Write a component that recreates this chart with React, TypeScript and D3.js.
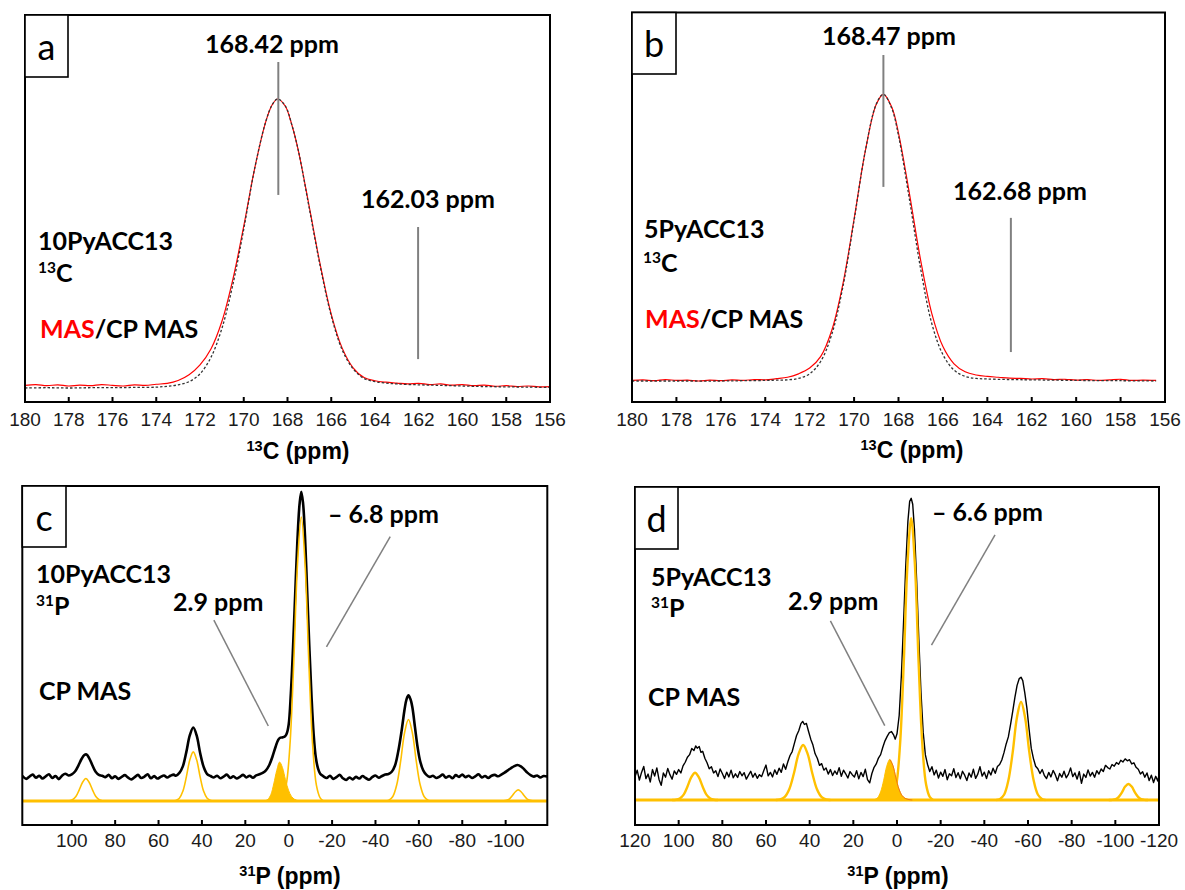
import React from "react";
import * as d3 from "d3";

type Pt = [number, number];

// ---------------- tick labels ----------------
const ticks13C = [180, 178, 176, 174, 172, 170, 168, 166, 164, 162, 160, 158, 156];
const ticks31Pc = [100, 80, 60, 40, 20, 0, -20, -40, -60, -80, -100];
const ticks31Pd = [120, 100, 80, 60, 40, 20, 0, -20, -40, -60, -80, -100, -120];

// ---------------- panel a : 10PyACC13 13C (ppm, normalised intensity) ----------------
const masA: Pt[] = [
  [180, 0.9], [179.5, 1.2], [179, 0.8], [178.5, 1.1], [178, 0.7], [177.5, 1.0], [177, 0.8], [176.5, 1.2],
  [176, 0.9], [175.5, 0.7], [175, 1.1], [174.5, 0.9], [174, 1.3], [173.5, 1.6], [173, 2.6], [172.5, 4.6],
  [172, 8], [171.5, 13.5], [171, 23], [170.5, 37.5], [170, 56], [169.5, 76], [169, 92], [168.7, 98],
  [168.45, 100], [168.1, 97.5], [167.8, 91], [167.5, 82], [167, 62.5], [166.5, 42.5], [166, 25.5],
  [165.5, 13.8], [165, 7], [164.5, 3.6], [164, 2.5], [163.5, 2.0], [163, 1.7], [162.5, 1.4], [162, 1.6],
  [161.5, 1.2], [161, 1.4], [160.5, 1.0], [160, 1.2], [159.5, 0.8], [159, 1.0], [158.5, 0.6], [158, 0.8],
  [157.5, 0.5], [157, 0.7], [156.5, 0.4], [156, 0.5],
];
const cpA: Pt[] = [
  [180, 0], [179, 0.1], [178, 0], [177, 0.1], [176, 0.1], [175, 0.2], [174, 0.3], [173.5, 0.6], [173, 1.1],
  [172.5, 2.2], [172, 4.9], [171.5, 10.6], [171, 20.6], [170.5, 35.7], [170, 55], [169.5, 76], [169, 92],
  [168.7, 98], [168.45, 100], [168.1, 97.6], [167.8, 91], [167.5, 82], [167, 62], [166.5, 42], [166, 25],
  [165.5, 13.2], [165, 6.6], [164.5, 3.3], [164, 2.2], [163.5, 1.7], [163, 1.4], [162, 1.1], [161, 0.9],
  [160, 0.7], [159, 0.5], [158, 0.4], [157, 0.3], [156, 0.2],
];

// ---------------- panel b : 5PyACC13 13C ----------------
const masB: Pt[] = [
  [180, 0.2], [179.5, 0.4], [179, 0.1], [178.5, 0.5], [178, 0.2], [177.5, 0.3], [177, 0], [176.5, 0.3],
  [176, 0.1], [175.5, 0.4], [175, 0.2], [174.5, 0.5], [174, 0.4], [173.5, 0.8], [173, 1.3], [172.5, 2.5],
  [172, 4.5], [171.5, 8.6], [171, 17.8], [170.5, 34], [170, 56.5], [169.5, 80], [169, 96.5], [168.68, 100],
  [168.3, 95.5], [168, 86.5], [167.5, 65], [167, 42], [166.5, 23.5], [166, 12], [165.5, 6], [165, 3.2],
  [164.5, 2.1], [164, 1.6], [163.5, 1.3], [163, 1.0], [162.5, 0.9], [162, 0.7], [161.5, 0.8], [161, 0.5],
  [160.5, 0.6], [160, 0.3], [159.5, 0.5], [159, 0.2], [158.5, 0.4], [158, 0.6], [157.5, 0.2], [157, 0.3],
  [156.4, 0.2],
];
const cpB: Pt[] = [
  [180, 0], [178, 0], [176, 0], [175, 0.1], [174, 0.2], [173.5, 0.3], [173, 0.4], [172.5, 0.9], [172, 2.5],
  [171.5, 6.9], [171, 16.4], [170.5, 33], [170, 56], [169.5, 80], [169, 96.6], [168.68, 100], [168.3, 95],
  [168, 85.6], [167.5, 63], [167, 39], [166.5, 20], [166, 9.2], [165.5, 3.8], [165, 1.6], [164.5, 0.9],
  [164, 0.7], [163, 0.5], [162, 0.4], [160, 0.2], [158, 0.1], [156.4, 0],
];

// ---------------- panel c : 10PyACC13 31P CP MAS ----------------
const cpC: Pt[] = [
  [122.8, 8.9], [121, 7.8], [119.5, 8.6], [118, 9.3], [116.5, 8.2], [115, 8.9], [113.5, 7.9], [112, 8.7],
  [110.5, 9.4], [109, 8.1], [107.5, 8.8], [106, 7.7], [104.5, 8.9], [103, 9.6], [101.5, 9.0],
  [100, 9.4], [98.5, 10.4], [97, 12.4], [95.5, 14.8], [94.2, 16.2], [93.2, 16.4], [92, 15.1], [90.5, 12.6],
  [89, 10.3], [87.5, 9.2], [86, 8.9],
  [84.5, 8.4], [83, 9.2], [81.5, 8.0], [80, 8.7], [78.5, 7.8], [77, 8.5], [75.5, 9.1], [74, 8.2], [72.5, 7.6],
  [71, 8.4], [69.5, 9.2], [68, 8.1], [66.5, 8.6], [65, 9.4], [63.5, 8.0], [62, 8.8], [60.5, 7.9], [59, 8.5],
  [57.5, 9.0], [56, 8.3], [54.5, 8.9], [53, 9.3],
  [52, 8.9], [50.4, 9.9], [48.8, 12.2], [47.2, 17.2], [45.6, 23.1], [44, 25.9], [42.4, 23], [40.8, 16.8],
  [39.2, 12], [37.6, 9.5], [36, 8.8],
  [34.5, 8.3], [33, 8.9], [31.5, 8.0], [30, 8.6], [28.5, 9.3], [27, 8.1], [25.5, 8.7], [24, 7.9], [22.5, 8.5],
  [21, 9.2], [19.5, 8.3], [18, 8.9], [16.5, 8.2], [15, 9.0], [13.5, 9.4], [12, 9.9],
  [10.5, 10.8], [9, 12.6], [7.5, 15.6], [6, 19.2], [4.8, 21.6], [3.8, 22.3], [2.8, 22.4], [1.8, 22.7],
  [0.9, 23.8], [0, 27], [-1, 38], [-2, 54], [-3, 73], [-4, 91.5], [-5, 104.5], [-5.8, 108.9], [-6.6, 105],
  [-7.5, 93.5], [-8.5, 74], [-9.5, 54.5], [-10.5, 37], [-11.5, 23.5], [-12.5, 15.3], [-13.5, 11.5],
  [-14.5, 9.6], [-16, 8.7],
  [-17.5, 8.1], [-19, 8.9], [-20.5, 7.8], [-22, 8.4], [-23.5, 9.2], [-25, 8.0], [-26.5, 7.4], [-28, 8.3],
  [-29.5, 7.6], [-31, 8.5], [-32.5, 7.9], [-34, 8.8], [-35.5, 8.1], [-37, 7.5], [-38.5, 8.4], [-40, 9.0],
  [-41.5, 8.2], [-43, 8.8], [-44.5, 9.3],
  [-46, 9.5], [-47.5, 10.3], [-49, 12.5], [-50.5, 17.5], [-52, 24.5], [-53.4, 32.2], [-54.3, 35.8],
  [-55.2, 37.2], [-56.1, 35.9], [-57, 33], [-58.2, 26], [-59.4, 19], [-60.6, 14], [-62, 10.8], [-63.5, 9.2],
  [-65, 8.5],
  [-66.5, 8.9], [-68, 8.1], [-69.5, 8.6], [-71, 9.3], [-72.5, 8.2], [-74, 8.8], [-75.5, 8.0], [-77, 9.1],
  [-78.5, 8.5], [-80, 9.3], [-81.5, 8.4], [-83, 8.9], [-84.5, 8.1], [-86, 8.7], [-87.5, 9.4], [-89, 8.3],
  [-90.5, 8.8], [-92, 8.1], [-93.5, 8.9], [-95, 9.2], [-96.5, 8.7], [-98, 9.3],
  [-99.5, 10.0], [-101, 10.8], [-102.5, 11.6], [-104, 12.3], [-105.5, 12.7], [-107, 12.2], [-108.5, 11.2],
  [-110, 10.0], [-111.5, 9.1], [-113, 8.6], [-114.5, 9.0], [-116, 8.3], [-117.5, 8.8], [-119.2, 8.6],
];
const fitC93: Pt[] = [[102.5, 0], [101.2, 0.09], [99.7, 0.44], [98.1, 1.56], [96.6, 3.85], [95, 6.6], [93.5, 7.9], [92, 6.6], [90.4, 3.85], [88.9, 1.56], [87.3, 0.44], [85.8, 0.09], [84.5, 0]];
const fitC44: Pt[] = [[53.5, 0], [52, 0.19], [50.4, 0.97], [48.8, 3.4], [47.2, 8.4], [45.6, 14.4], [44, 17.3], [42.4, 14.4], [40.8, 8.4], [39.2, 3.4], [37.6, 0.97], [36, 0.19], [34.5, 0]];
const fitC3: Pt[] = [[12, 0], [11, 0.1], [9.6, 0.6], [8.2, 2.3], [6.9, 6], [5.5, 10.8], [4.2, 13.7], [2.9, 11.8], [1.5, 7.5], [0.1, 3.8], [-1.3, 1.6], [-2.7, 0.6], [-4.5, 0.1], [-6, 0]];
const fitCmain: Pt[] = [[4.5, 0], [2.9, 1.1], [1.16, 5.6], [-0.58, 19.8], [-2.32, 48.7], [-4.06, 83.5], [-5.8, 100], [-7.54, 83.5], [-9.28, 48.7], [-11.02, 19.8], [-12.76, 5.6], [-14.5, 1.1], [-16, 0]];
const fitC55: Pt[] = [[-44.5, 0], [-46.2, 0.32], [-48, 1.6], [-49.8, 5.7], [-51.6, 14], [-53.4, 24], [-55.2, 28.7], [-57, 24], [-58.8, 14], [-60.6, 5.7], [-62.4, 1.6], [-64.2, 0.32], [-66, 0]];
const fitC105: Pt[] = [[-97.5, 0], [-99.1, 0.04], [-100.4, 0.22], [-101.8, 0.77], [-103.1, 1.9], [-104.5, 3.26], [-105.8, 3.9], [-107.1, 3.26], [-108.5, 1.9], [-109.8, 0.77], [-111.2, 0.22], [-112.5, 0.04], [-114, 0]];

// ---------------- panel d : 5PyACC13 31P CP MAS ----------------
const cpD: Pt[] = [
  [120, 8.2], [119, 10.6], [118, 7.1], [117, 9.8], [116, 11.9], [115, 7.6], [114, 9.2], [113, 6.4], [112, 10.8],
  [111, 8.5], [110, 11.4], [109, 7.3], [108, 5.2], [107, 9.6], [106, 8.1], [105, 11.2], [104, 9.0], [103, 7.4],
  [102, 10.3], [101, 9.1],
  [100, 10.8], [99, 9.6], [98, 12.1], [97, 13.4], [96, 15.2], [95, 16.1], [94, 18.3], [93, 17.6], [92.2, 19.2],
  [91.5, 18.4], [90.6, 19.0], [89.8, 16.9], [89, 17.3], [88, 14.8], [87, 13.2], [86, 11.1], [85, 11.8], [84, 9.6],
  [83, 10.4], [82, 8.3], [81, 11.0], [80, 9.4], [79, 7.6], [78, 9.9], [77, 8.2], [76, 10.6], [75, 7.9], [74, 9.3],
  [73, 8.0], [72, 10.1], [71, 8.6], [70, 9.7], [69, 7.4], [68, 8.8], [67, 10.2], [66, 8.1], [65, 9.5], [64, 7.7],
  [63, 9.0], [62, 8.3], [61, 10.5], [60, 12.4], [59, 8.6], [58, 9.8], [57, 8.2], [56, 10.7], [55, 9.1], [54, 11.3],
  [53, 9.8],
  [52, 12.8], [51, 10.9], [50, 13.6], [49, 15.8], [48, 17.2], [47, 20.1], [46, 22.9], [45, 24.6], [44, 27.1],
  [43.2, 27.9], [42.4, 26.8], [41.5, 27.2], [40.5, 24.3], [39.5, 21.6], [38.5, 19.5], [37.5, 16.4], [36.5, 14.8],
  [35.5, 12.3], [34.5, 12.9], [33.5, 10.6],
  [32.5, 11.4], [31.5, 9.2], [30.5, 10.8], [29.5, 8.7], [28.5, 10.3], [27.5, 9.1], [26.5, 11.5], [25.5, 8.4],
  [24.5, 10.6], [23.5, 9.3], [22.5, 7.8], [21.5, 10.1], [20.5, 9.0], [19.5, 8.2], [18.5, 10.4], [17.5, 7.5],
  [16.5, 9.8], [15.5, 8.3], [14.5, 10.9], [13.5, 7.2], [12.5, 6.1], [11.5, 9.4], [10.5, 11.6],
  [9.5, 12.8], [8.5, 14.9], [7.5, 16.1], [6.5, 18.7], [5.5, 21.0], [4.5, 22.6], [3.5, 23.9], [2.5, 24.3],
  [1.5, 23.0], [0.8, 21.6], [0, 23.5], [-1, 30], [-2, 44], [-3, 63], [-4, 83], [-5, 99], [-5.8, 106],
  [-6.5, 107.1], [-7.2, 105], [-8, 96], [-9, 78], [-10, 57], [-11, 38], [-12, 24], [-13, 16], [-14, 12.6],
  [-15, 10.1], [-16, 11.8], [-17, 8.9],
  [-18, 10.6], [-19, 7.8], [-20, 9.9], [-21, 8.4], [-22, 10.8], [-23, 7.2], [-24, 9.3], [-25, 8.6], [-26, 11.1],
  [-27, 8.0], [-28, 9.7], [-29, 7.5], [-30, 10.2], [-31, 8.8], [-32, 6.9], [-33, 9.6], [-34, 8.1], [-35, 10.9],
  [-36, 7.7], [-37, 9.2], [-38, 11.8], [-39, 8.5], [-40, 9.9], [-41, 7.6], [-42, 10.4], [-43, 8.9], [-44, 11.3],
  [-45, 9.5], [-46, 11.9],
  [-47, 12.6], [-48, 14.2], [-49, 16.8], [-50, 19.9], [-51, 22.4], [-52, 26.8], [-53, 31.5], [-54, 36.4],
  [-55, 40.7], [-56, 43.1], [-56.8, 43.6], [-57.6, 42.4], [-58.5, 38.2], [-59.5, 32.6], [-60.5, 25.1],
  [-61.5, 18.3], [-62.5, 14.7], [-63.5, 12.0], [-64.5, 11.1], [-65.5, 9.4],
  [-66.5, 10.8], [-67.5, 8.7], [-68.5, 7.6], [-69.5, 9.8], [-70.5, 8.2], [-71.5, 10.5], [-72.5, 9.0], [-73.5, 6.8],
  [-74.5, 9.4], [-75.5, 8.1], [-76.5, 10.2], [-77.5, 7.9], [-78.5, 9.1], [-79.5, 11.4], [-80.5, 8.3], [-81.5, 9.6],
  [-82.5, 7.4], [-83.5, 10.1], [-84.5, 5.9], [-85.5, 9.2], [-86.5, 8.0], [-87.5, 10.7], [-88.5, 8.5], [-89.5, 9.8],
  [-90.5, 8.1], [-91.5, 10.4], [-92.5, 9.2], [-93.5, 11.0], [-94.5, 10.1], [-95.5, 12.3], [-96.5, 11.5],
  [-97.5, 11.0], [-98.5, 12.6], [-99.5, 12.0], [-100.5, 13.3], [-101.5, 12.7], [-102.5, 14.1], [-103.5, 13.5],
  [-104.5, 14.6], [-105.5, 13.9], [-106.5, 14.3], [-107.5, 12.8], [-108.5, 13.2], [-109.5, 11.6], [-110.5, 10.9],
  [-111.5, 9.2], [-112.5, 10.0], [-113.5, 8.1], [-114.5, 9.6], [-115.5, 6.9], [-116.5, 8.8], [-117.5, 6.2],
  [-118.5, 8.4], [-119.5, 6.7], [-120, 9.0],
];
const fitD92: Pt[] = [[103, 0], [101.2, 0.1], [99.5, 0.54], [97.7, 1.9], [96, 4.7], [94.2, 8.1], [92.5, 9.7], [90.8, 8.1], [89, 4.7], [87.3, 1.9], [85.5, 0.54], [83.8, 0.1], [82, 0]];
const fitD43: Pt[] = [[55.5, 0], [53.5, 0.2], [51.4, 1.1], [49.3, 3.9], [47.2, 9.5], [45.1, 16.3], [43, 19.5], [40.9, 16.3], [38.8, 9.5], [36.7, 3.9], [34.6, 1.1], [32.5, 0.2], [30.5, 0]];
const fitD3: Pt[] = [[11.5, 0], [10.3, 0.15], [8.9, 0.8], [7.5, 2.9], [6.1, 7], [4.7, 12], [3.3, 14.4], [1.9, 12.3], [0.5, 7.8], [-0.9, 3.9], [-2.3, 1.6], [-3.7, 0.6], [-5.5, 0.15], [-7, 0]];
const fitDmain: Pt[] = [[3.5, 0], [2, 1.1], [0.3, 5.6], [-1.4, 19.8], [-3.1, 48.7], [-4.8, 83.5], [-6.5, 100], [-8.2, 83.5], [-9.9, 48.7], [-11.6, 19.8], [-13.3, 5.6], [-15, 1.1], [-16.5, 0]];
const fitD57: Pt[] = [[-45.5, 0], [-47.2, 0.38], [-49.1, 1.95], [-51, 6.9], [-53, 17], [-54.9, 29.1], [-56.8, 34.9], [-58.7, 29.1], [-60.6, 17], [-62.6, 6.9], [-64.5, 1.95], [-66.4, 0.38], [-68, 0]];
const fitD106: Pt[] = [[-97, 0], [-98.7, 0.06], [-100.2, 0.32], [-101.6, 1.13], [-103.1, 2.78], [-104.5, 4.76], [-106, 5.7], [-107.5, 4.76], [-108.9, 2.78], [-110.4, 1.13], [-111.8, 0.32], [-113.3, 0.06], [-115, 0]];

// ---------------- annotation marker lines (ppm, intensity) ----------------
const markA: Pt[][] = [[[168.42, 112.8], [168.42, 66.8]], [[162.03, 55.7], [162.03, 10]]];
const markB: Pt[][] = [[[168.68, 113.7], [168.68, 67.7]], [[162.94, 56.9], [162.94, 10.1]]];
const markC: Pt[][] = [[[-46.8, 93.1], [-17.4, 54.3]], [[34.5, 63.7], [9.4, 26.4]]];
const markD: Pt[][] = [[[-44.9, 94.1], [-15.8, 55]], [[30.5, 63.6], [5.6, 26.4]]];

// ---------------- styling ----------------
const W = 1185;
const H = 890;
const LABEL_FONT = "Lato, 'Open Sans', sans-serif";
const AXIS_FONT = "'Liberation Sans', Arial, sans-serif";
const GOLD = "#FFC000";
const MARK = "#808080";
const LABEL_SIZE = 25;

interface PanelCfg {
  id: string;
  letter: string;
  x0: number; x1: number; y0: number; y1: number;
  domain: [number, number];
  yMap: [number, number];
  ticks: number[];
  tickY: number;
  box: [number, number];
  letterPos: [number, number];
  titleSup: string; titleMain: string; titleX: number; titleY: number;
}

const cfgA: PanelCfg = { id: "a", letter: "a", x0: 25, x1: 550, y0: 15, y1: 402, domain: [180, 156], yMap: [388, 99], ticks: ticks13C, tickY: 426, box: [68, 77], letterPos: [46.5, 60], titleSup: "13", titleMain: "C (ppm)", titleX: 298, titleY: 459 };
const cfgB: PanelCfg = { id: "b", letter: "b", x0: 632, x1: 1165, y0: 12.5, y1: 402, domain: [180, 156], yMap: [381, 94.3], ticks: ticks13C, tickY: 426, box: [676, 74], letterPos: [654, 56.5], titleSup: "13", titleMain: "C (ppm)", titleX: 912, titleY: 458 };
const cfgC: PanelCfg = { id: "c", letter: "c", x0: 22.3, x1: 547.3, y0: 486, y1: 825, domain: [122.8, -119.2], yMap: [801, 517], ticks: ticks31Pc, tickY: 847, box: [66, 547], letterPos: [44, 530.5], titleSup: "31", titleMain: "P (ppm)", titleX: 290, titleY: 884 };
const cfgD: PanelCfg = { id: "d", letter: "d", x0: 635, x1: 1159, y0: 487, y1: 825, domain: [120, -120], yMap: [800, 518.3], ticks: ticks31Pd, tickY: 847, box: [678, 549], letterPos: [656.5, 531.5], titleSup: "31", titleMain: "P (ppm)", titleX: 898, titleY: 884 };

function scales(p: PanelCfg) {
  const x = d3.scaleLinear().domain(p.domain).range([p.x0, p.x1]);
  const y = d3.scaleLinear().domain([0, 100]).range(p.yMap);
  return { x, y };
}

function lineGen(p: PanelCfg, curve: d3.CurveFactory = d3.curveCatmullRom) {
  const { x, y } = scales(p);
  return d3.line<Pt>().x((d) => x(d[0])).y((d) => y(d[1])).curve(curve);
}

function Frame({ p }: { p: PanelCfg }) {
  const { x } = scales(p);
  return (
    <g>
      {p.ticks.map((t) => {
        const tx = x(t);
        const inner = tx > p.x0 + 2 && tx < p.x1 - 2;
        return (
          <g key={t}>
            {inner && <line x1={tx} x2={tx} y1={p.y1} y2={p.y1 - 5} stroke="#000" strokeWidth={2} />}
            <text x={tx} y={p.tickY} textAnchor="middle" fontFamily={AXIS_FONT} fontSize={19} fill="#1a1a1a">
              {String(t)}
            </text>
          </g>
        );
      })}
      <rect x={p.x0} y={p.y0} width={p.x1 - p.x0} height={p.y1 - p.y0} fill="none" stroke="#000" strokeWidth={2} />
      <rect x={p.x0} y={p.y0} width={p.box[0] - p.x0} height={p.box[1] - p.y0} fill="#fff" stroke="#000" strokeWidth={1.6} />
      <text x={p.letterPos[0]} y={p.letterPos[1]} textAnchor="middle" fontFamily={LABEL_FONT} fontSize={36} fill="#000">
        {p.letter}
      </text>
      <text x={p.titleX} y={p.titleY} textAnchor="middle" fontFamily={AXIS_FONT} fontWeight="bold" fontSize={23} fill="#000">
        <tspan fontSize={14.5} dy={-8.5}>{p.titleSup}</tspan>
        <tspan dy={8.5}>{p.titleMain}</tspan>
      </text>
    </g>
  );
}

function Marks({ p, marks }: { p: PanelCfg; marks: Pt[][] }) {
  const { x, y } = scales(p);
  return (
    <g>
      {marks.map((m, i) => (
        <line key={i} x1={x(m[0][0])} y1={y(m[0][1])} x2={x(m[1][0])} y2={y(m[1][1])} stroke={MARK} strokeWidth={p.id === "a" || p.id === "b" ? 2 : 1.5} />
      ))}
    </g>
  );
}

function Clip({ p }: { p: PanelCfg }) {
  return (
    <clipPath id={"clip-" + p.id}>
      <rect x={p.x0} y={p.y0} width={p.x1 - p.x0} height={p.y1 - p.y0} />
    </clipPath>
  );
}

function Label({ x, y, children, fill = "#000" }: { x: number; y: number; children: React.ReactNode; fill?: string }) {
  return (
    <text x={x} y={y} fontFamily={LABEL_FONT} fontWeight="bold" fontSize={LABEL_SIZE} fill={fill}>
      {children}
    </text>
  );
}

function SupLabel({ x, y, sup, main }: { x: number; y: number; sup: string; main: string }) {
  return (
    <text x={x} y={y} fontFamily={LABEL_FONT} fontWeight="bold" fontSize={LABEL_SIZE} fill="#000">
      <tspan fontSize={15.5} dy={-9}>{sup}</tspan>
      <tspan dy={9}>{main}</tspan>
    </text>
  );
}

function Carbon({ p, mas, cp, marks, texts }: { p: PanelCfg; mas: Pt[]; cp: Pt[]; marks: Pt[][]; texts: React.ReactNode }) {
  const lg = lineGen(p);
  return (
    <g>
      <g clipPath={`url(#clip-${p.id})`}>
        <path d={lg(mas) || ""} fill="none" stroke="#FF0000" strokeWidth={1.2} />
        <path d={lg(cp) || ""} fill="none" stroke="#333" strokeWidth={1.3} strokeDasharray="2.5 2" />
      </g>
      <Marks p={p} marks={marks} />
      {texts}
      <Frame p={p} />
    </g>
  );
}

function Phosphorus({ p, black, fits, filled, marks, texts, blackW, fitW, edge }: {
  p: PanelCfg; black: Pt[]; fits: Pt[][]; filled: Pt[]; marks: Pt[][]; texts: React.ReactNode;
  blackW: number; fitW: number; edge?: boolean;
}) {
  const { x, y } = scales(p);
  const lg = lineGen(p);
  const lgBlack = lineGen(p, p.id === "d" ? d3.curveLinear : d3.curveCatmullRom);
  const area = d3.area<Pt>().x((d) => x(d[0])).y0(y(0)).y1((d) => y(d[1])).curve(d3.curveCatmullRom);
  const base: Pt[] = [[p.domain[0], 0], [p.domain[1], 0]];
  const peakIdx = filled.reduce((bi, d, i) => (d[1] > filled[bi][1] ? i : bi), 0);
  return (
    <g>
      <g clipPath={`url(#clip-${p.id})`}>
        <path d={lgBlack(black) || ""} fill="none" stroke="#000" strokeWidth={blackW} strokeLinejoin="round" />
        <path d={d3.line<Pt>().x((d) => x(d[0])).y((d) => y(d[1]))(base) || ""} fill="none" stroke={GOLD} strokeWidth={2.8} />
        {fits.map((f, i) => (
          <path key={i} d={lg(f) || ""} fill="none" stroke={GOLD} strokeWidth={fitW} />
        ))}
        <path d={area(filled) || ""} fill={GOLD} stroke={GOLD} strokeWidth={1} />
        {edge && <path d={lg(filled.slice(peakIdx)) || ""} fill="none" stroke="#E8581A" strokeWidth={0.9} opacity={0.8} />}
      </g>
      <Marks p={p} marks={marks} />
      {texts}
      <Frame p={p} />
    </g>
  );
}

export default function App() {
  return (
    <svg width={W} height={H} viewBox={`0 0 ${W} ${H}`} style={{ position: "absolute", left: 0, top: 0, background: "#fff" }}>
      <defs>
        <Clip p={cfgA} />
        <Clip p={cfgB} />
        <Clip p={cfgC} />
        <Clip p={cfgD} />
      </defs>
      <rect width={W} height={H} fill="#fff" />

      <Carbon
        p={cfgA}
        mas={masA}
        cp={cpA}
        marks={markA}
        texts={
          <g>
            <Label x={205} y={53}>168.42 ppm</Label>
            <Label x={361} y={208}>162.03 ppm</Label>
            <Label x={38} y={250}>10PyACC13</Label>
            <SupLabel x={38} y={282} sup="13" main="C" />
            <text x={40} y={338} fontFamily={LABEL_FONT} fontWeight="bold" fontSize={LABEL_SIZE}>
              <tspan fill="#FF0000">MAS</tspan>
              <tspan fill="#000">/CP MAS</tspan>
            </text>
          </g>
        }
      />

      <Carbon
        p={cfgB}
        mas={masB}
        cp={cpB}
        marks={markB}
        texts={
          <g>
            <Label x={822} y={45}>168.47 ppm</Label>
            <Label x={953} y={200}>162.68 ppm</Label>
            <Label x={644} y={238}>5PyACC13</Label>
            <SupLabel x={643} y={272} sup="13" main="C" />
            <text x={645} y={328} fontFamily={LABEL_FONT} fontWeight="bold" fontSize={LABEL_SIZE}>
              <tspan fill="#FF0000">MAS</tspan>
              <tspan fill="#000">/CP MAS</tspan>
            </text>
          </g>
        }
      />

      <Phosphorus
        p={cfgC}
        black={cpC}
        fits={[fitC93, fitC44, fitCmain, fitC55, fitC105]}
        filled={fitC3}
        marks={markC}
        blackW={2.6}
        fitW={1.6}
        texts={
          <g>
            <Label x={328} y={523}>– 6.8 ppm</Label>
            <Label x={173} y={611}>2.9 ppm</Label>
            <Label x={36} y={583}>10PyACC13</Label>
            <SupLabel x={36} y={615} sup="31" main="P" />
            <Label x={39} y={700}>CP MAS</Label>
          </g>
        }
      />

      <Phosphorus
        p={cfgD}
        black={cpD}
        fits={[fitD92, fitD43, fitDmain, fitD57, fitD106]}
        filled={fitD3}
        marks={markD}
        blackW={1.4}
        fitW={2.4}
        edge
        texts={
          <g>
            <Label x={932} y={521}>– 6.6 ppm</Label>
            <Label x={788} y={610}>2.9 ppm</Label>
            <Label x={651} y={586}>5PyACC13</Label>
            <SupLabel x={651} y={617} sup="31" main="P" />
            <Label x={648} y={706}>CP MAS</Label>
          </g>
        }
      />
    </svg>
  );
}
